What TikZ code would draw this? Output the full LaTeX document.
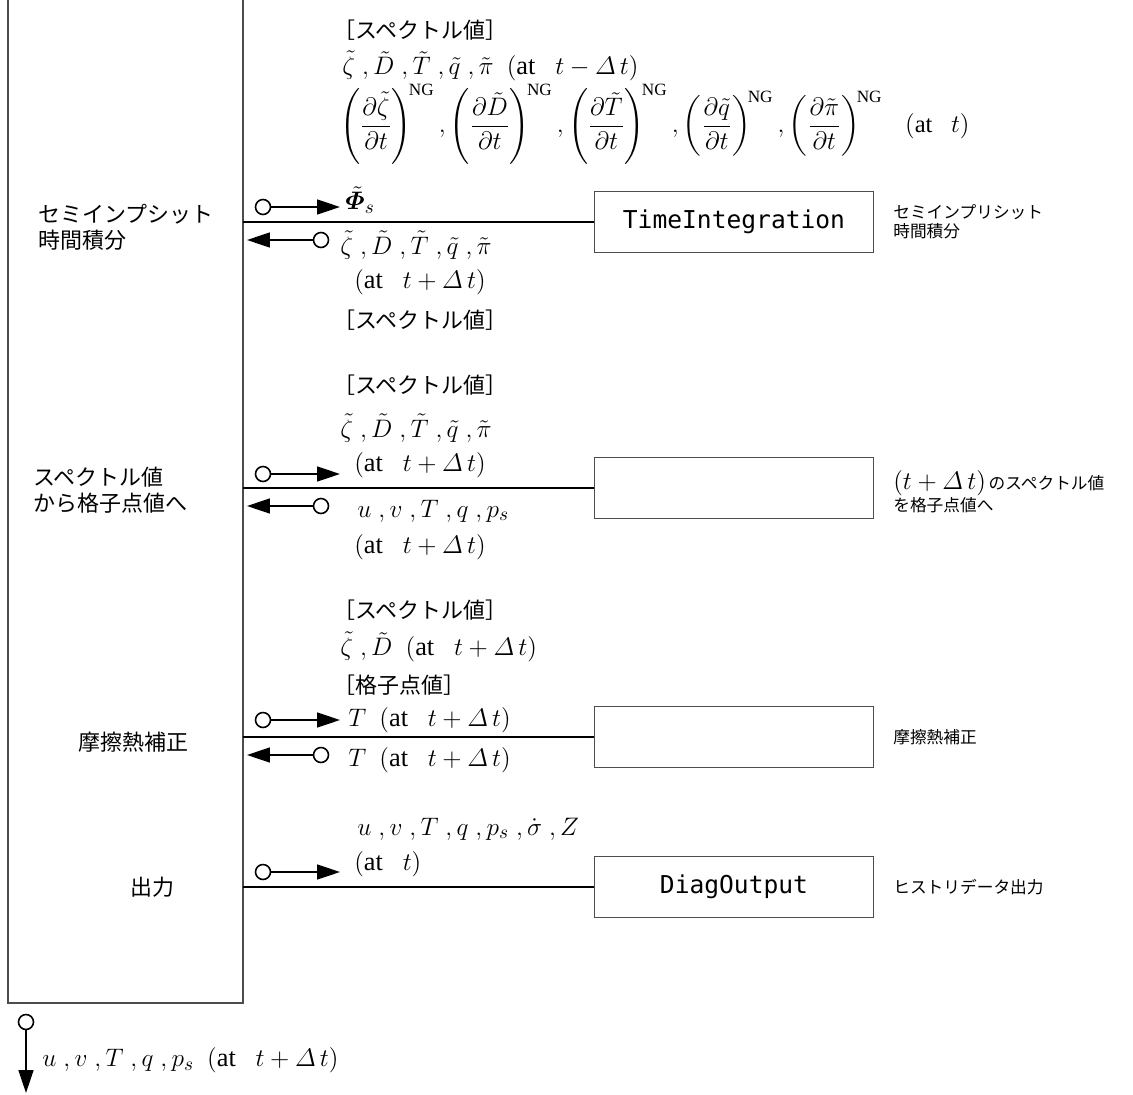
\documentclass[tikz,border=0pt]{standalone}
\usepackage{amsmath}
\usepackage{bm}
\usepackage{fontspec}
\setmainfont{Liberation Serif}
\setmonofont{DejaVu Sans Mono}
\newfontfamily\jp{Noto Sans CJK JP}
\usetikzlibrary{arrows.meta}

\newcommand{\atdt}[1]{(\text{at}\ \ \ t#1\varDelta\, t)}
\newcommand{\dtn}[1]{\left(\dfrac{\partial #1}{\partial t}\right)^{\!\text{NG}}}
\newcommand{\cm}{\;,}

\begin{document}
\begin{tikzpicture}[x=0.02cm,y=-0.02cm,
    every node/.style={font=\fontsize{15}{18}\selectfont},
    lbl/.style={anchor=west,inner sep=0pt},
    jlbl/.style={anchor=west,inner sep=0pt,align=left,font=\jp\fontsize{12.5}{15}\selectfont},
    side/.style={anchor=west,inner sep=0pt,align=left,font=\jp\fontsize{9.5}{11}\selectfont},
    unit/.style={draw=black!70,line width=0.6pt,minimum width=5.58cm,minimum height=1.22cm,
      inner sep=0pt,font=\ttfamily\fontsize{14}{16}\selectfont},
    port/.style={circle,draw,line width=0.9pt,minimum size=0.3cm,inner sep=0pt},
    flow/.style={line width=0.9pt,-{Triangle[length=0.46cm,width=0.3cm]}},
    link/.style={line width=0.6pt}]
  \useasboundingbox (0,0) rectangle (1133,1095);
  % main program
  \draw[draw=black!70,line width=0.6pt] (8,0) -- (8,1003) -- (243,1003) -- (243,0);
  \coordinate (m1) at (243,222); \coordinate (m2) at (243,488);
  \coordinate (m3) at (243,737); \coordinate (m4) at (243,887);
  \node[jlbl] (l1) at (38,227) {セミインプシット\\時間積分};
  \node[jlbl] (l2) at (33,490) {スペクトル値\\から格子点値へ};
  \node[jlbl] (l3) at (78,742) {摩擦熱補正};
  \node[jlbl] (l4) at (130,887) {出力};
  % modules
  \node[unit] (b1) at (734,222) {TimeIntegration};
  \node[unit] (b2) at (734,488) {};
  \node[unit] (b3) at (734,737) {};
  \node[unit] (b4) at (734,887) {DiagOutput};
  \draw[link] (m1) -- (b1.west); \draw[link] (m2) -- (b2.west);
  \draw[link] (m3) -- (b3.west); \draw[link] (m4) -- (b4.west);
  \node[side] (r1) at (893,222) {セミインプリシット\\時間積分};
  \node[side] (r2) at (893,492) {{\rmfamily\fontsize{14}{16}\selectfont$(t+\varDelta\,t)$}\,のスペクトル値\\を格子点値へ};
  \node[side] (r3) at (893,737) {摩擦熱補正};
  \node[side] (r4) at (893,887) {ヒストリデータ出力};
  % ports
  \node[port] (p1) at (263,207) {}; \coordinate (e1) at (340,207);
  \node[port] (q1) at (321,240) {}; \coordinate (f1) at (247,240);
  \node[port] (p2) at (263,474) {}; \coordinate (e2) at (340,474);
  \node[port] (q2) at (321,506) {}; \coordinate (f2) at (247,506);
  \node[port] (p3) at (263,720) {}; \coordinate (e3) at (340,720);
  \node[port] (q3) at (321,755) {}; \coordinate (f3) at (247,755);
  \node[port] (p4) at (263,872) {}; \coordinate (e4) at (340,872);
  \node[port] (p5) at (26,1022) {}; \coordinate (e5) at (26,1093);
  \draw[flow] (p1) -- (e1); \draw[flow] (q1) -- (f1);
  \draw[flow] (p2) -- (e2); \draw[flow] (q2) -- (f2);
  \draw[flow] (p3) -- (e3); \draw[flow] (q3) -- (f3);
  \draw[flow] (p4) -- (e4); \draw[flow] (p5) -- (e5);
  % data
  \node[jlbl] (s1) at (333,30) {［スペクトル値］};
  \node[lbl] (d1) at (342,66) {$\tilde\zeta\cm\tilde D\cm\tilde T\cm\tilde q\cm\tilde\pi\ \ \atdt{-}$};
  \node[lbl,font=\fontsize{14}{17}\selectfont] (d2) at (340,124) {$\dtn{\tilde\zeta},\dtn{\tilde D},\dtn{\tilde T},\dtn{\tilde q},\dtn{\tilde\pi}\ \ \ (\text{at}\ \ \ t)$};
  \node[lbl] (d3) at (345,200) {$\tilde{\bm{\varPhi}}_s$};
  \node[lbl] (d4) at (340,245) {$\tilde\zeta\cm\tilde D\cm\tilde T\cm\tilde q\cm\tilde\pi$};
  \node[lbl] (d5) at (354,282) {$\atdt{+}$};
  \node[jlbl] (s2) at (333,320) {［スペクトル値］};
  \node[jlbl] (s3) at (333,385) {［スペクトル値］};
  \node[lbl] (d6) at (340,428) {$\tilde\zeta\cm\tilde D\cm\tilde T\cm\tilde q\cm\tilde\pi$};
  \node[lbl] (d7) at (354,465) {$\atdt{+}$};
  \node[lbl] (d8) at (357,511) {$u\cm v\cm T\cm q\cm p_s$};
  \node[lbl] (d9) at (354,547) {$\atdt{+}$};
  \node[jlbl] (s4) at (333,610) {［スペクトル値］};
  \node[lbl] (d10) at (340,647) {$\tilde\zeta\cm\tilde D\ \ \atdt{+}$};
  \node[jlbl] (s5) at (333,685) {［格子点値］};
  \node[lbl] (d11) at (348,720) {$T\ \ \atdt{+}$};
  \node[lbl] (d12) at (348,760) {$T\ \ \atdt{+}$};
  \node[lbl] (d13) at (357,829) {$u\cm v\cm T\cm q\cm p_s\cm\dot\sigma\cm Z$};
  \node[lbl] (d14) at (354,864) {$(\text{at}\ \ \ t)$};
  \node[lbl] (d15) at (42,1060) {$u\cm v\cm T\cm q\cm p_s\ \ \atdt{+}$};
\end{tikzpicture}
\end{document}
